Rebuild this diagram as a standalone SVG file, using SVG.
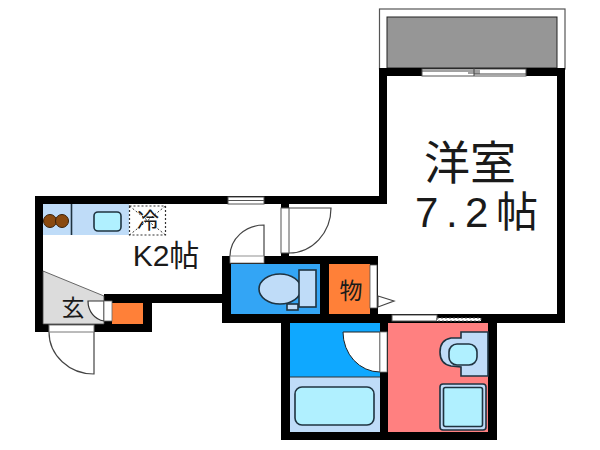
<svg xmlns="http://www.w3.org/2000/svg" width="600" height="450" viewBox="0 0 600 450">
<style>
.ln{stroke:#1f3340;stroke-width:1.6}
.aqua{fill:#b0f0ff}
.pale{fill:#bfdcf8}
.t{font-family:"Liberation Sans","Noto Sans CJK JP",sans-serif;fill:#1a1a1a}
</style>
<rect width="600" height="450" fill="#fff"/>
<g id="balcony">
<rect x="379.500" y="9" width="185.500" height="60" fill="#fff" stroke="#555" stroke-width="1.200"/>
<rect x="387" y="17" width="170" height="51" fill="#969696" stroke="#222" stroke-width="1"/>
</g>
<g id="walls" fill="#000">
<rect x="379" y="68" width="8" height="136"/>
<rect x="379" y="68" width="186" height="8"/>
<rect x="557" y="68" width="8" height="254"/>
<rect x="35" y="196" width="352" height="8"/>
<rect x="35" y="196" width="8" height="136"/>
<rect x="35" y="324" width="117" height="8"/>
<rect x="143" y="294" width="9" height="38"/>
<rect x="104" y="294" width="118" height="9"/>
<rect x="104" y="294" width="8" height="38"/>
<rect x="222" y="256" width="156" height="8"/>
<rect x="222" y="256" width="9" height="66"/>
<rect x="370" y="256" width="8" height="66"/>
<rect x="222" y="314" width="343" height="9"/>
<rect x="320" y="256" width="9" height="66"/>
<rect x="281" y="204" width="8" height="52"/>
<rect x="281" y="314" width="9" height="126"/>
<rect x="281" y="432" width="216" height="8"/>
<rect x="488" y="314" width="9" height="126"/>
<rect x="380" y="314" width="8" height="118"/>
</g>
<g id="rooms">
<rect x="231" y="264" width="89" height="50" fill="#33a5f5"/>
<rect x="329" y="264" width="41" height="50" fill="#ff8038"/>
<rect x="112" y="303" width="31" height="21" fill="#ff8038"/>
<rect x="290" y="323" width="90" height="54" fill="#0fa8ff"/>
<rect x="290" y="377" width="90" height="55" class="pale"/>
<path d="M290 377H380" stroke="#333" stroke-width="1"/>
<rect x="388" y="323" width="100" height="109" fill="#ff8080"/>
<polygon points="43,271 104,296 104,324 43,324" fill="#dcdcdc" stroke="#444" stroke-width="0.800"/>
</g>
<g id="windows">
<rect x="422" y="69" width="104" height="7" fill="#fff" stroke="#555" stroke-width="1"/>
<path d="M422 71H480M474 74H526M474 68V76M468 73H480" stroke="#444" stroke-width="1" fill="none"/>
<rect x="228" y="197" width="36" height="7" fill="#fff" stroke="#555" stroke-width="1"/>
<path d="M228 200.500H264" stroke="#555" stroke-width="1"/>
<rect x="392" y="315" width="45" height="6" fill="#fff" stroke="#555" stroke-width="1"/>
<rect x="437" y="318" width="44" height="3" fill="#fff" stroke="#555" stroke-width="1" stroke-dasharray="2 2"/>
</g>
<g id="doors">
<path d="M49 332A45 42 0 0 0 94 374V332" fill="#fff" stroke="#444" stroke-width="1.200"/>
<rect x="49" y="325" width="45" height="7" fill="#fff" stroke="#777" stroke-width="1"/>
<path d="M104 301H88A18 20 0 0 0 104 321Z" fill="#fff" stroke="#333" stroke-width="1.200"/>
<rect x="104" y="301" width="8" height="20" fill="#fff" stroke="#666" stroke-width="0.800"/>
<path d="M230 256A34 31 0 0 1 264 225V256" fill="#fff" stroke="#444" stroke-width="1.200"/>
<rect x="230" y="256" width="34" height="7" fill="#fff" stroke="#777" stroke-width="0.800"/>
<path d="M289 253A42 45 0 0 0 331 208H289" fill="#fff" stroke="#444" stroke-width="1.200"/>
<rect x="281" y="208" width="8" height="45" fill="#fff" stroke="#555" stroke-width="1"/>
<rect x="370" y="265" width="7" height="43" fill="#fff" stroke="#555" stroke-width="0.800"/>
<polygon points="378,296 394,301 378,307" fill="#fff" stroke="#444" stroke-width="1.200"/>
<path d="M343 332A37 40 0 0 0 380 372V332Z" fill="#fff" stroke="#222" stroke-width="1"/>
<rect x="380" y="332" width="7" height="40" fill="#fff" stroke="#777" stroke-width="0.800"/>
</g>
<g id="kitchen">
<rect x="43" y="204" width="86" height="31" class="pale"/>
<path d="M71.500 204V235" class="ln"/>
<circle cx="50" cy="221" r="6.500" fill="#8a4a10" stroke="#3a2008" stroke-width="1"/>
<circle cx="62" cy="221" r="6.500" fill="#8a4a10" stroke="#3a2008" stroke-width="1"/>
<rect x="94" y="212" width="27" height="19" rx="4" class="aqua ln"/>
<rect x="129.500" y="206" width="36" height="29" fill="#fff" stroke="#333" stroke-width="1.200" stroke-dasharray="2 2"/>
<path d="M129.500 206L165.500 235M129.500 235L165.500 206" stroke="#333" stroke-width="1" stroke-dasharray="2 2" fill="none"/>
</g>
<g id="wc">
<ellipse cx="280" cy="289" rx="21" ry="15" class="pale ln"/>
<rect x="299" y="270" width="17" height="37" class="pale ln"/>
<rect x="287" y="304" width="11" height="6" class="pale ln"/>
</g>
<g id="bath">
<rect x="295" y="387" width="79" height="38" rx="7" class="aqua ln"/>
</g>
<g id="washroom">
<path d="M488 332H461V338H451Q440 340 440 352Q440 364 451 366L461 367V376H488Z" class="pale ln"/>
<rect x="449" y="344" width="28" height="21" rx="8" class="aqua ln"/>
<rect x="440" y="384" width="46" height="46" rx="3" class="pale ln"/>
<rect x="443.500" y="387.500" width="39" height="39" rx="2" class="aqua ln"/>
</g>
<g id="labels">
<text x="470" y="179" text-anchor="middle" font-size="46" class="t">洋室</text>
<text x="415" y="227" font-size="42" class="t" textLength="123" lengthAdjust="spacing">7.2帖</text>
<text x="166" y="266" text-anchor="middle" font-size="30" class="t">K2帖</text>
<text x="148" y="228" text-anchor="middle" font-size="22" class="t">冷</text>
<text x="73" y="316" text-anchor="middle" font-size="23" class="t">玄</text>
<text x="351" y="299" text-anchor="middle" font-size="23" class="t">物</text>
</g>
</svg>
